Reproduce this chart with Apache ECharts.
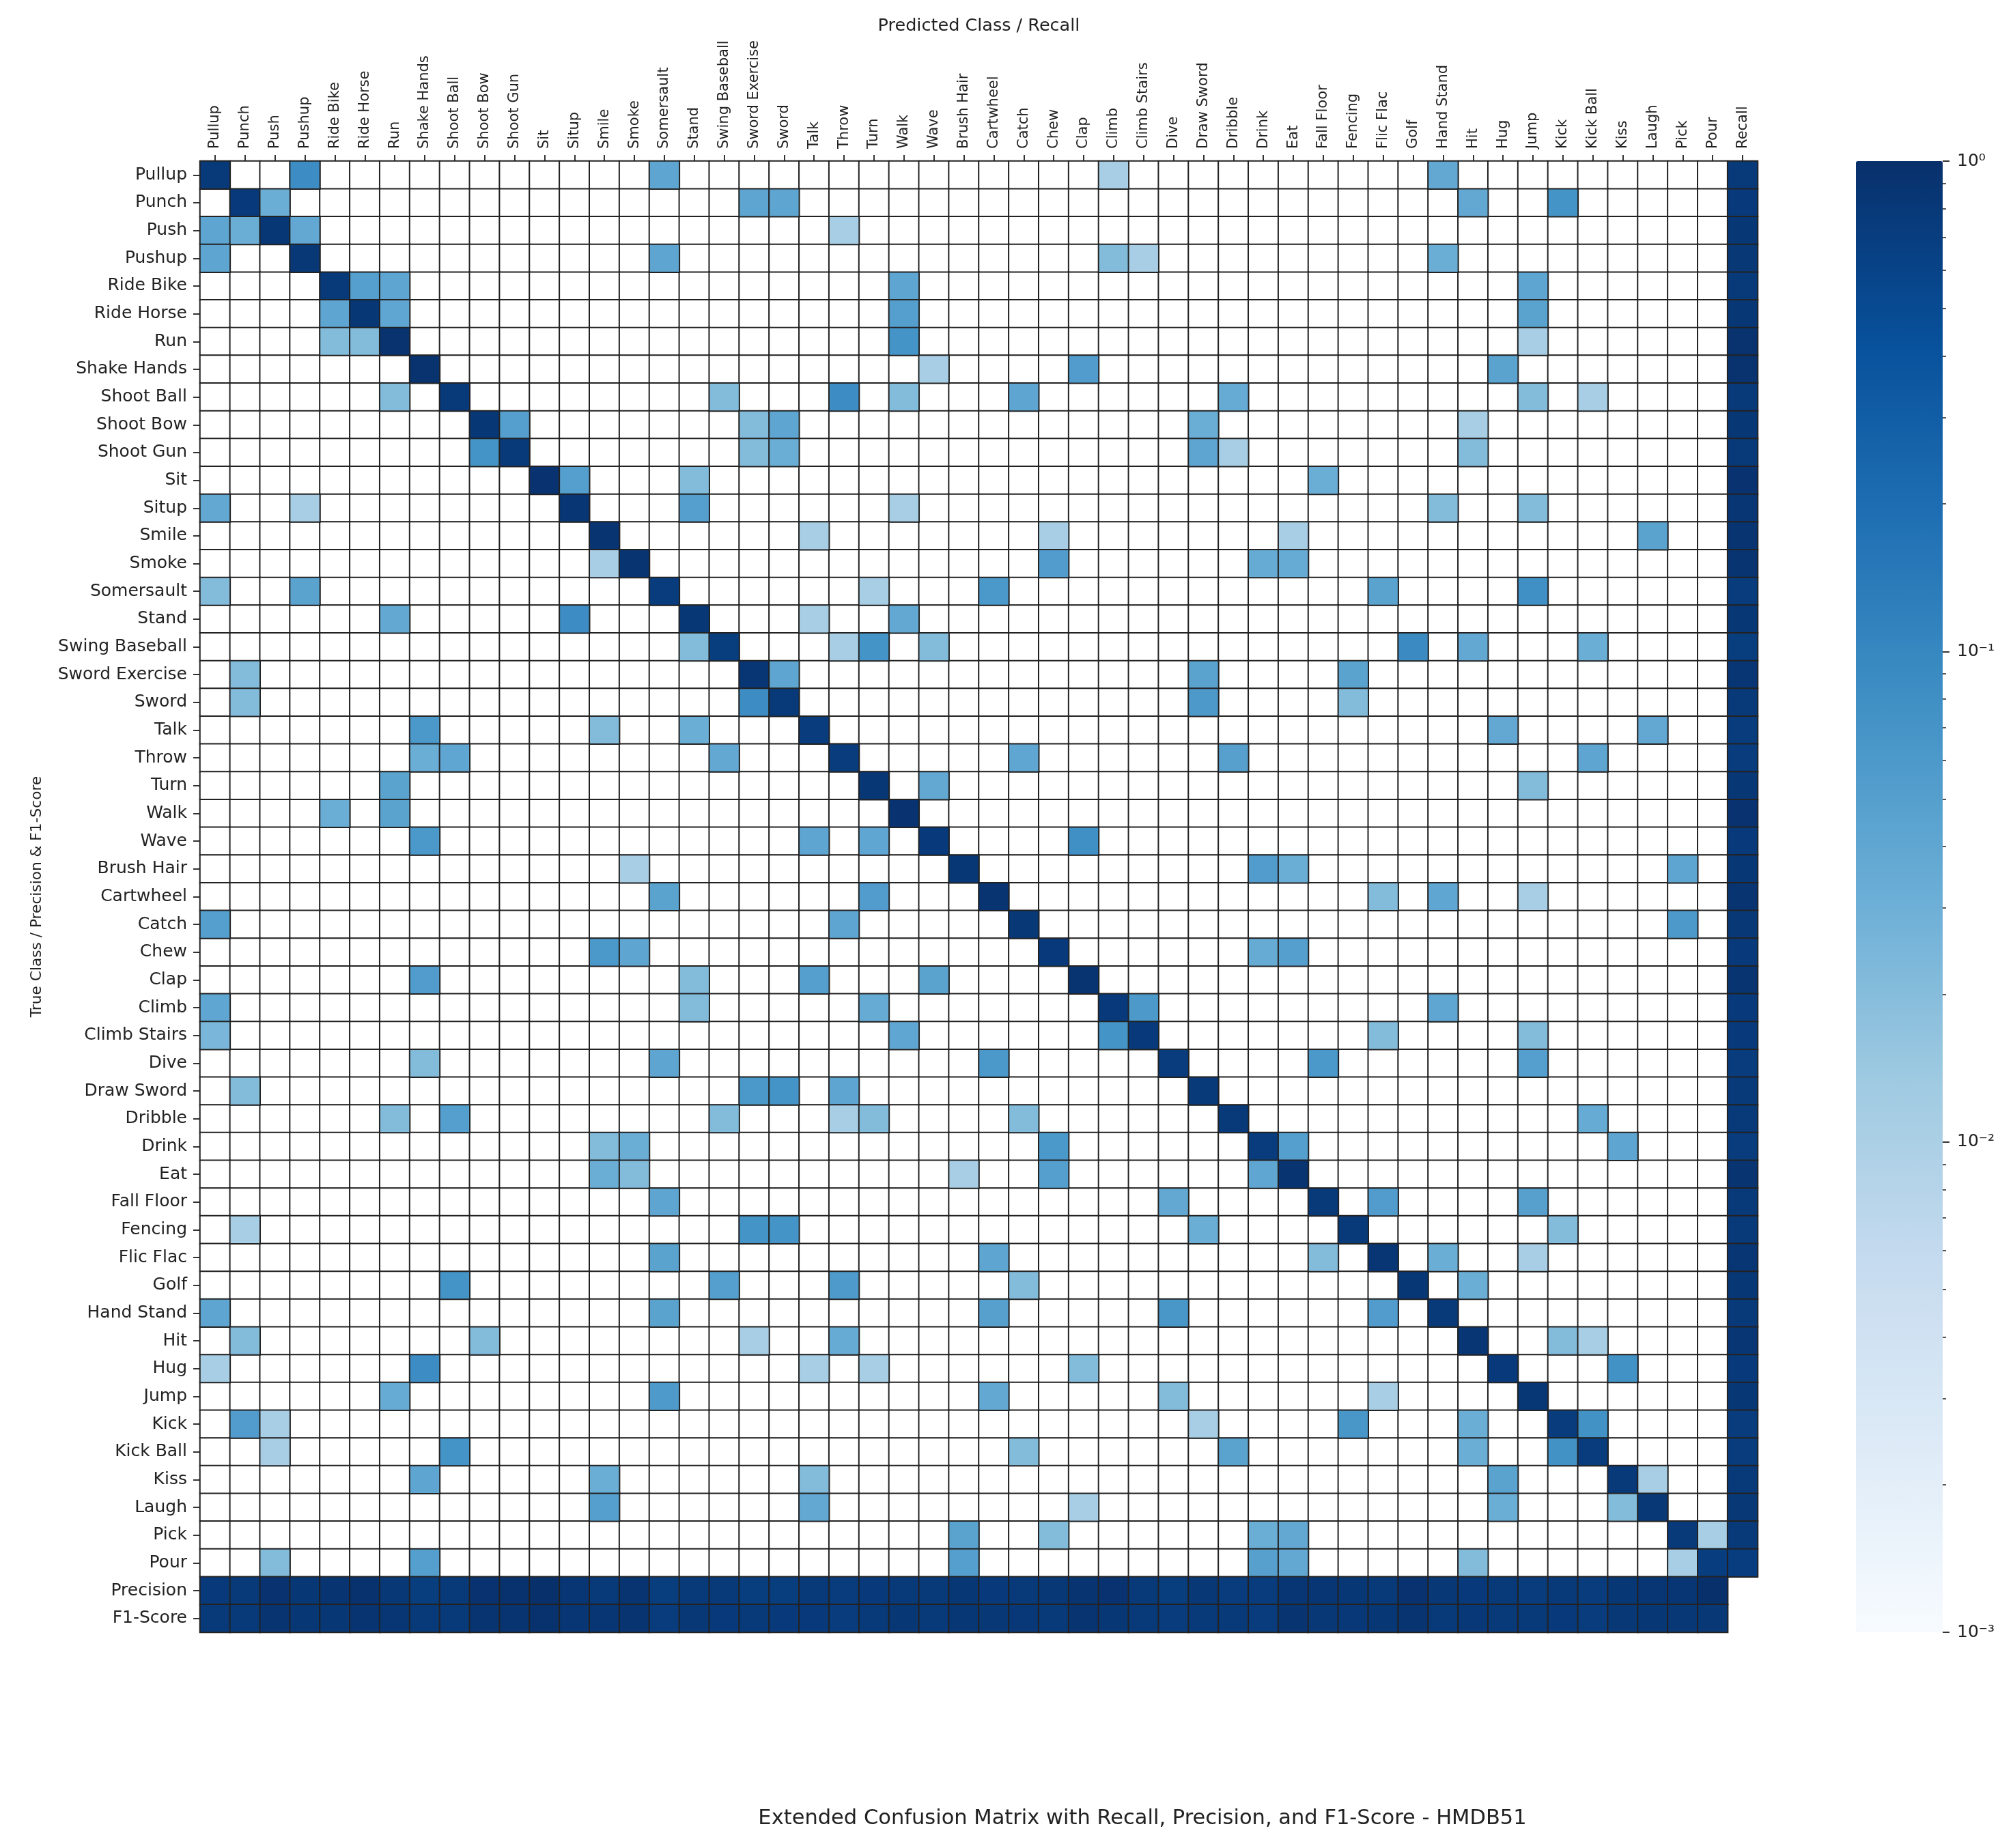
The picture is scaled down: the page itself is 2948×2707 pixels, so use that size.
<!DOCTYPE html>
<html>
<head>
<meta charset="utf-8">
<script src="https://cdn.jsdelivr.net/npm/echarts/dist/echarts.min.js"></script>
<style>html,body{margin:0;padding:0;background:#fff}</style>
</head>
<body>
<div id="main" style="width:2948px;height:2707px;"></div>
<script type="text/javascript">
var classes = ['Pullup','Punch','Push','Pushup','Ride Bike','Ride Horse','Run','Shake Hands','Shoot Ball','Shoot Bow','Shoot Gun','Sit','Situp','Smile','Smoke','Somersault','Stand','Swing Baseball','Sword Exercise','Sword','Talk','Throw','Turn','Walk','Wave','Brush Hair','Cartwheel','Catch','Chew','Clap','Climb','Climb Stairs','Dive','Draw Sword','Dribble','Drink','Eat','Fall Floor','Fencing','Flic Flac','Golf','Hand Stand','Hit','Hug','Jump','Kick','Kick Ball','Kiss','Laugh','Pick','Pour'];

// diagonal of the matrix is the same number as the recall column
var recall = [0.80,0.76,0.84,0.82,0.80,0.84,0.93,0.93,0.78,0.84,0.80,0.92,0.86,0.90,0.88,0.74,0.84,0.72,0.86,0.80,0.74,0.74,0.84,0.92,0.76,0.84,0.88,0.82,0.76,0.88,0.76,0.76,0.74,0.78,0.80,0.74,0.90,0.78,0.78,0.86,0.84,0.78,0.86,0.76,0.84,0.74,0.74,0.80,0.82,0.78,0.70];
var precision = [0.76,0.78,0.92,0.84,0.88,0.96,0.82,0.72,0.80,0.92,0.96,0.98,0.86,0.80,0.90,0.72,0.80,0.80,0.72,0.72,0.78,0.74,0.76,0.78,0.80,0.84,0.76,0.80,0.82,0.88,0.92,0.80,0.72,0.82,0.74,0.74,0.86,0.86,0.84,0.80,0.92,0.82,0.76,0.80,0.74,0.78,0.74,0.84,0.86,0.86,0.98];
var f1 = [0.78,0.78,0.88,0.83,0.84,0.90,0.86,0.80,0.79,0.88,0.88,0.95,0.86,0.85,0.89,0.73,0.82,0.76,0.78,0.76,0.76,0.74,0.80,0.84,0.78,0.84,0.82,0.81,0.79,0.88,0.84,0.78,0.73,0.80,0.77,0.74,0.88,0.82,0.81,0.83,0.88,0.80,0.81,0.78,0.79,0.76,0.74,0.82,0.84,0.82,0.82];

// [true class, predicted class, share]
var offDiagonal = [
  [0,3,0.085],[0,15,0.042],[0,30,0.011],[0,41,0.038],
  [1,2,0.032],[1,18,0.042],[1,19,0.042],[1,42,0.038],[1,45,0.07],
  [2,0,0.042],[2,1,0.032],[2,3,0.038],[2,21,0.011],
  [3,0,0.042],[3,15,0.042],[3,30,0.021],[3,31,0.011],[3,41,0.032],
  [4,5,0.05],[4,6,0.042],[4,23,0.042],[4,44,0.042],
  [5,4,0.042],[5,6,0.04],[5,23,0.05],[5,44,0.045],
  [6,4,0.021],[6,5,0.021],[6,23,0.07],[6,44,0.011],
  [7,24,0.011],[7,29,0.055],[7,43,0.045],
  [8,6,0.021],[8,17,0.021],[8,21,0.085],[8,23,0.021],[8,27,0.042],[8,34,0.035],[8,44,0.021],[8,46,0.011],
  [9,10,0.05],[9,18,0.021],[9,19,0.042],[9,33,0.032],[9,42,0.011],
  [10,9,0.07],[10,18,0.021],[10,19,0.032],[10,33,0.042],[10,34,0.011],[10,42,0.021],
  [11,12,0.05],[11,16,0.021],[11,37,0.032],
  [12,0,0.038],[12,3,0.011],[12,16,0.05],[12,23,0.011],[12,41,0.021],[12,44,0.021],
  [13,20,0.011],[13,28,0.011],[13,36,0.011],[13,48,0.045],
  [14,13,0.011],[14,28,0.055],[14,35,0.035],[14,36,0.035],
  [15,0,0.021],[15,3,0.045],[15,22,0.011],[15,26,0.062],[15,39,0.045],[15,44,0.08],
  [16,6,0.038],[16,12,0.085],[16,20,0.011],[16,23,0.038],
  [17,16,0.021],[17,21,0.011],[17,22,0.07],[17,24,0.021],[17,40,0.09],[17,42,0.038],[17,46,0.032],
  [18,1,0.021],[18,19,0.042],[18,33,0.045],[18,38,0.045],
  [19,1,0.021],[19,18,0.085],[19,33,0.06],[19,38,0.021],
  [20,7,0.062],[20,13,0.021],[20,16,0.032],[20,43,0.038],[20,48,0.038],
  [21,7,0.032],[21,8,0.04],[21,17,0.038],[21,27,0.04],[21,34,0.048],[21,46,0.042],
  [22,6,0.045],[22,24,0.038],[22,44,0.021],
  [23,4,0.032],[23,6,0.045],
  [24,7,0.062],[24,20,0.042],[24,22,0.04],[24,29,0.08],
  [25,14,0.011],[25,35,0.055],[25,36,0.032],[25,49,0.042],
  [26,15,0.045],[26,22,0.055],[26,39,0.021],[26,41,0.04],[26,44,0.011],
  [27,0,0.05],[27,21,0.042],[27,49,0.06],
  [28,13,0.062],[28,14,0.042],[28,35,0.035],[28,36,0.05],
  [29,7,0.055],[29,16,0.021],[29,20,0.05],[29,24,0.045],
  [30,0,0.04],[30,16,0.021],[30,22,0.035],[30,31,0.06],[30,41,0.04],
  [31,0,0.025],[31,23,0.04],[31,30,0.07],[31,39,0.021],[31,44,0.021],
  [32,7,0.021],[32,15,0.042],[32,26,0.062],[32,37,0.062],[32,44,0.05],
  [33,1,0.021],[33,18,0.062],[33,19,0.07],[33,21,0.042],
  [34,6,0.021],[34,8,0.05],[34,17,0.021],[34,21,0.011],[34,22,0.021],[34,27,0.021],[34,46,0.035],
  [35,13,0.021],[35,14,0.032],[35,28,0.062],[35,36,0.05],[35,47,0.042],
  [36,13,0.032],[36,14,0.021],[36,25,0.011],[36,28,0.05],[36,35,0.04],
  [37,15,0.042],[37,32,0.038],[37,39,0.055],[37,44,0.048],
  [38,1,0.011],[38,18,0.07],[38,19,0.07],[38,33,0.032],[38,45,0.021],
  [39,15,0.045],[39,26,0.042],[39,37,0.021],[39,41,0.032],[39,44,0.011],
  [40,8,0.07],[40,17,0.05],[40,21,0.058],[40,27,0.021],[40,42,0.032],
  [41,0,0.042],[41,15,0.045],[41,26,0.048],[41,32,0.065],[41,39,0.055],
  [42,1,0.021],[42,9,0.021],[42,18,0.011],[42,21,0.035],[42,45,0.021],[42,46,0.011],
  [43,0,0.011],[43,7,0.085],[43,20,0.011],[43,22,0.011],[43,29,0.021],[43,47,0.075],
  [44,6,0.035],[44,15,0.058],[44,26,0.038],[44,32,0.021],[44,39,0.011],
  [45,1,0.055],[45,2,0.011],[45,33,0.011],[45,38,0.065],[45,42,0.032],[45,46,0.075],
  [46,2,0.011],[46,8,0.07],[46,27,0.021],[46,34,0.045],[46,42,0.032],[46,45,0.075],
  [47,7,0.042],[47,13,0.032],[47,20,0.021],[47,43,0.045],[47,48,0.011],
  [48,13,0.05],[48,20,0.038],[48,29,0.011],[48,43,0.032],[48,47,0.021],
  [49,25,0.045],[49,28,0.021],[49,35,0.032],[49,36,0.038],[49,50,0.011],
  [50,2,0.021],[50,7,0.05],[50,25,0.05],[50,35,0.048],[50,36,0.038],[50,42,0.021],[50,49,0.011]
];

var colorbarLabels = {'-3': '10⁻³', '-2': '10⁻²', '-1': '10⁻¹', '0': '10⁰'};
var colorbarMinor = [0.002,0.003,0.004,0.005,0.006,0.007,0.008,0.009,0.02,0.03,0.04,0.05,0.06,0.07,0.08,0.09,0.2,0.3,0.4,0.5,0.6,0.7,0.8,0.9];

var blues = ['#f7fbff','#deebf7','#c6dbef','#9ecae1','#6baed6','#4292c6','#2171b5','#08519c','#08306b'];
var textColor = '#222';
var font = 'DejaVu Sans';

var xCats = classes.concat(['Recall']);
var yCats = classes.concat(['Precision','F1-Score']);

var cells = {};
offDiagonal.forEach(function (d) { cells[d[0] + '_' + d[1]] = d[2]; });

// visualMap is linear, so filled cells go in as log10. zero cells get their own white series
var data = [];
var empty = [];
for (var r = 0; r < classes.length; r++) {
	for (var c = 0; c < classes.length; c++) {
		var v = r === c ? recall[r] : (cells[r + '_' + c] || 0);
		if (v > 0) {
			data.push([c, r, Math.log10(v)]);
		} else {
			empty.push([c, r, 0]);
		}
	}
	data.push([classes.length, r, Math.log10(recall[r])]);
}
for (var k = 0; k < classes.length; k++) {
	data.push([k, classes.length, Math.log10(precision[k])]);
	data.push([k, classes.length + 1, Math.log10(f1[k])]);
}

var myChart = echarts.init(document.getElementById('main'), null, {renderer: 'canvas'});

var option = {
	animation: false,
	backgroundColor: '#fff',
	textStyle: {fontFamily: font},
	title: {
		text: 'Extended Confusion Matrix with Recall, Precision, and F1-Score - HMDB51',
		left: 1668,
		top: 2644,
		textAlign: 'center',
		textStyle: {fontFamily: font, fontSize: 30.5, fontWeight: 'normal', color: textColor}
	},
	grid: [
		{left: 293, top: 236, width: 2281, height: 2155},
		{left: 2718, top: 236, width: 127, height: 2155}
	],
	xAxis: [
		{
			type: 'category', gridIndex: 0, data: xCats, position: 'top',
			name: 'Predicted Class / Recall', nameLocation: 'middle', nameGap: 174,
			nameTextStyle: {fontFamily: font, fontSize: 25.5, color: textColor},
			axisLine: {show: false},
			axisTick: {show: true, alignWithLabel: true, length: 9, lineStyle: {color: '#333', width: 2}},
			axisLabel: {interval: 0, rotate: -90, margin: 18, fontFamily: font, fontSize: 21, color: textColor},
			splitLine: {show: false}
		},
		{type: 'value', gridIndex: 1, show: false}
	],
	yAxis: [
		{
			type: 'category', gridIndex: 0, data: yCats, inverse: true,
			name: 'True Class / Precision & F1-Score', nameLocation: 'middle', nameGap: 228, nameRotate: 90,
			nameTextStyle: {fontFamily: font, fontSize: 21.7, color: textColor},
			axisLine: {show: false},
			axisTick: {show: true, alignWithLabel: true, length: 10, lineStyle: {color: '#333', width: 2}},
			axisLabel: {interval: 0, margin: 19, fontFamily: font, fontSize: 25, color: textColor},
			splitLine: {show: false}
		},
		{
			type: 'log', gridIndex: 1, position: 'right', min: 0.001, max: 1,
			axisLine: {show: false, onZero: false},
			splitLine: {show: false},
			axisTick: {show: true, length: 10, lineStyle: {color: '#333', width: 2}},
			axisLabel: {
				show: true, margin: 21, fontFamily: font, fontSize: 25, color: textColor,
				formatter: function (val) {
					return colorbarLabels[Math.round(Math.log10(val))];
				}
			}
		},
		{
			type: 'log', gridIndex: 1, position: 'right', min: 0.001, max: 1,
			axisLine: {show: false, onZero: false},
			splitLine: {show: false},
			axisTick: {show: true, length: 5, customValues: colorbarMinor, lineStyle: {color: '#555', width: 2}},
			axisLabel: {show: false}
		}
	],
	visualMap: {
		type: 'continuous',
		seriesIndex: 1,
		dimension: 2,
		min: -3,
		max: 0,
		calculable: false,
		left: 2718,
		top: 236,
		padding: 0,
		itemWidth: 127,
		itemHeight: 2155,
		text: null,
		inRange: {color: blues}
	},
	series: [
		{
			type: 'heatmap',
			xAxisIndex: 0,
			yAxisIndex: 0,
			progressive: 0,
			data: empty,
			itemStyle: {color: '#fff', borderColor: '#222', borderWidth: 2},
			emphasis: {disabled: true}
		},
		{
			type: 'heatmap',
			xAxisIndex: 0,
			yAxisIndex: 0,
			progressive: 0,
			data: data,
			itemStyle: {borderColor: '#222', borderWidth: 2},
			emphasis: {disabled: true}
		}
	]
};

myChart.setOption(option, true);
</script>
</body>
</html>
